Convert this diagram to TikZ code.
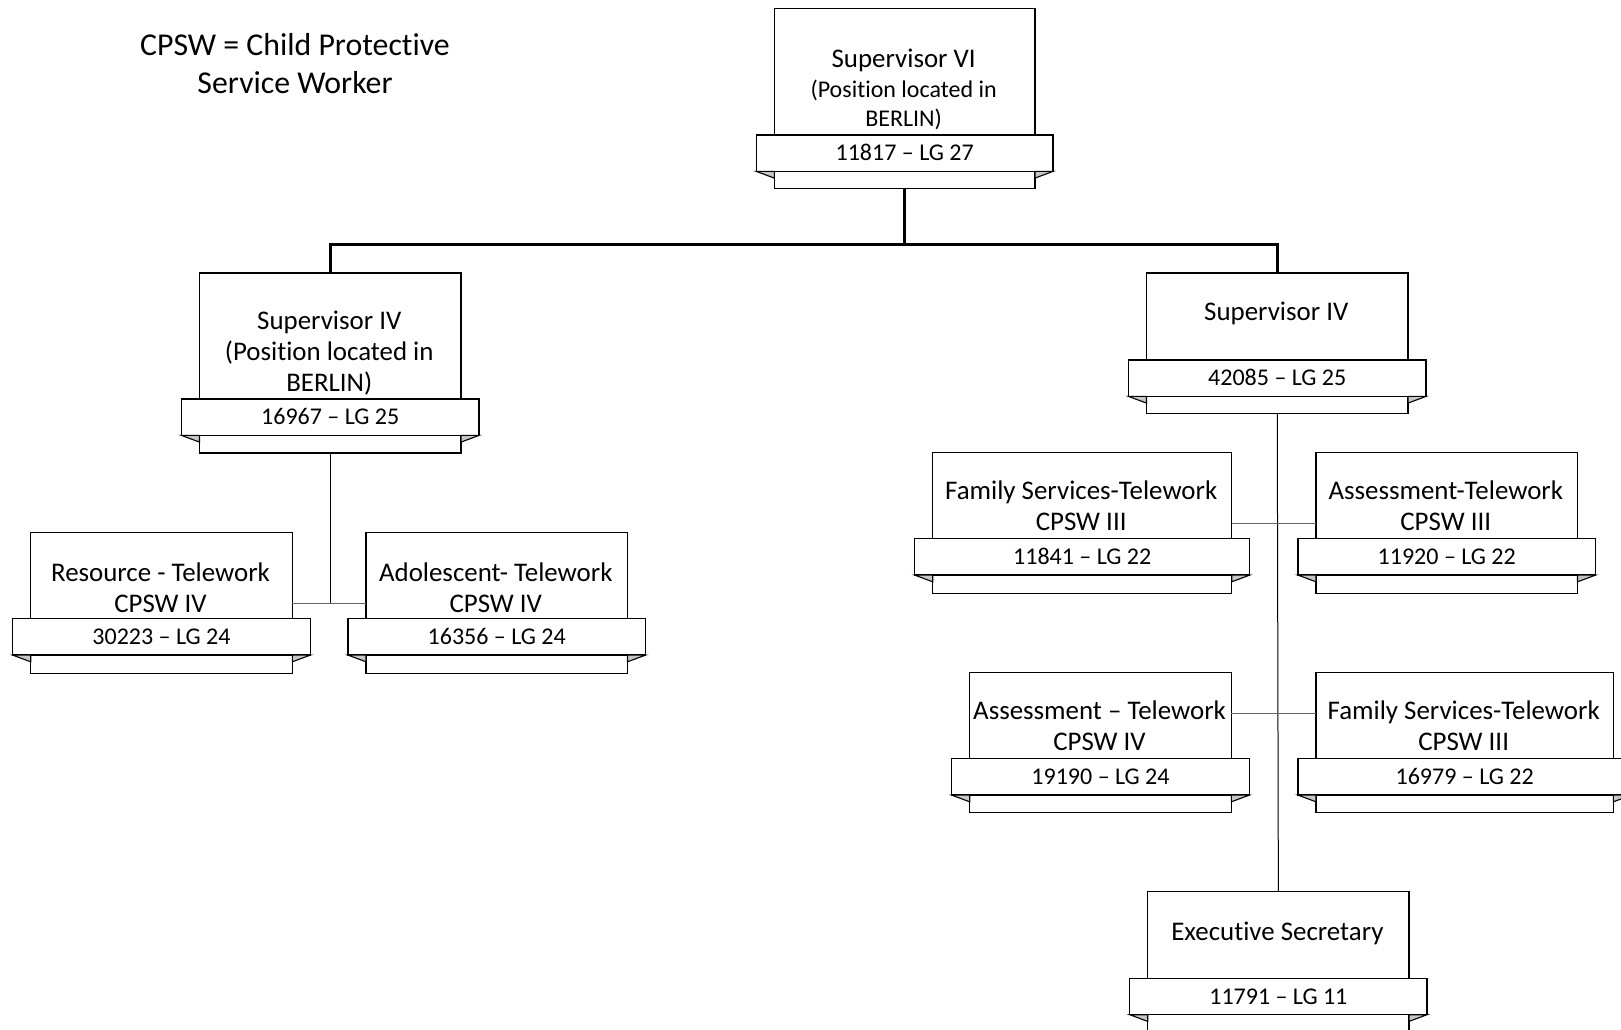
\documentclass[tikz,border=0pt]{standalone}
\usepackage{fontspec}
\setmainfont{Carlito}[Ligatures={TeX,NoCommon}]
\usetikzlibrary{calc}
\tikzset{
  mainbox/.style={draw, line width=1.4pt, fill=white, inner sep=0pt, outer sep=0pt, rectangle},
  bandbox/.style={draw, line width=1.4pt, fill=white, inner sep=0pt, outer sep=0pt, rectangle, minimum height=36.4pt},
  foldtri/.style={draw, line width=1.1pt, fill=gray!45, line join=miter},
  boxtext/.style={anchor=base, inner sep=0pt, outer sep=0pt, font=\fontsize{26.9}{31}\selectfont},
  numtext/.style={anchor=base, inner sep=0pt, outer sep=0pt, font=\fontsize{24}{29}\selectfont},
  legendtext/.style={anchor=base, inner sep=0pt, outer sep=0pt, font=\fontsize{31.8}{38.2}\selectfont},
  busline/.style={line width=2.7pt},
  vlink/.style={line width=1pt},
  hlink/.style={line width=1pt, draw=black!60},
}
% #1 name, #2 x left, #3 x right, #4 top, #5 band top, #6 bottom, #7 first baseline, #8 text, #9 number
\newcommand\obox[9]{%
  \node[mainbox, minimum width={#3-#2}, minimum height={#6-#4}] (#1) at ({(#2+#3)/2},{(#4+#6)/2}) {};
  \node[bandbox, minimum width={#3-#2+36}] (#1-b) at ({(#2+#3)/2},{#5+18.2}) {};
  \path[foldtri] (#1-b.south west) -- (#1-b.south west -| #1.west) -- ++(0,6.7) -- cycle;
  \path[foldtri] (#1-b.south east) -- (#1-b.south east -| #1.east) -- ++(0,6.7) -- cycle;
  \node[boxtext] (#1-t) at ({(#2+#3)/2-1},#7) {\begin{tabular}[t]{@{}c@{}}#8\end{tabular}};
  \node[numtext] (#1-n) at ({(#2+#3)/2},{#5+18.2+7.6}) {#9};
}
\begin{document}
\begin{tikzpicture}[x=1pt,y=-1pt]
  \fill[white] (0,0) rectangle (1621,1029);
  \useasboundingbox (0,0) rectangle (1621,1029);

  % legend
  \node[legendtext] (legend) at (295,55.7) {\begin{tabular}[t]{@{}c@{}}CPSW = Child Protective\\Service Worker\end{tabular}};

  % boxes
  \begin{scope}[boxtext/.append style={font=\fontsize{24}{29.5}\selectfont}]
    \obox{sup6}{774.3}{1035}{8.3}{135}{188.3}{67.5}{{\fontsize{26.9}{29.5}\selectfont Supervisor VI}\\(Position located in\\BERLIN)}{11817 \textendash{} LG 27}
  \end{scope}
  \obox{sup4L}{199.5}{461}{273}{399}{453}{329}{Supervisor IV\\(Position located in\\BERLIN)}{16967 \textendash{} LG 25}
  \obox{sup4R}{1146.5}{1408}{273}{360}{413.5}{320.5}{Supervisor IV}{42085 \textendash{} LG 25}
  \obox{res}{30.7}{292.3}{532.7}{618.7}{673.3}{581}{Resource - Telework\\CPSW IV}{30223 \textendash{} LG 24}
  \obox{adol}{366}{627.5}{532.7}{618.7}{673.3}{581}{Adolescent- Telework\\CPSW IV}{16356 \textendash{} LG 24}
  \obox{fam1}{932.7}{1231.7}{452.7}{538.7}{593.3}{499.3}{Family Services-Telework\\CPSW III}{11841 \textendash{} LG 22}
  \obox{assess1}{1316}{1577.5}{452.7}{538.7}{593.3}{499.3}{Assessment-Telework\\CPSW III}{11920 \textendash{} LG 22}
  \obox{assess2}{969.7}{1231.3}{672.7}{758.7}{812.7}{719.4}{Assessment \textendash{} Telework\\CPSW IV}{19190 \textendash{} LG 24}
  \obox{fam2}{1316}{1613.3}{672.7}{758.7}{812.7}{719.4}{Family Services-Telework\\CPSW III}{16979 \textendash{} LG 22}
  \obox{exec}{1147.7}{1409}{891.7}{978.3}{1032.3}{940}{Executive Secretary}{11791 \textendash{} LG 11}

  % connectors
  \coordinate (bus) at (904.65,244.3);
  \coordinate (j2) at (1277.7,713.3);
  \draw[busline] (sup6.south) -- (bus);
  \draw[busline] (sup4L.north) |- (bus) -| (sup4R.north);
  \draw[vlink] (sup4L.south) -- (sup4L.south |- res.east);
  \draw[hlink] (res.east) -- (adol.west);
  \draw[vlink] (sup4R.south) -- (exec.north);
  \draw[hlink] (fam1.east) -- (assess1.west);
  \draw[hlink] (assess2.east |- j2) -- (fam2.west |- j2);
\end{tikzpicture}
\end{document}
